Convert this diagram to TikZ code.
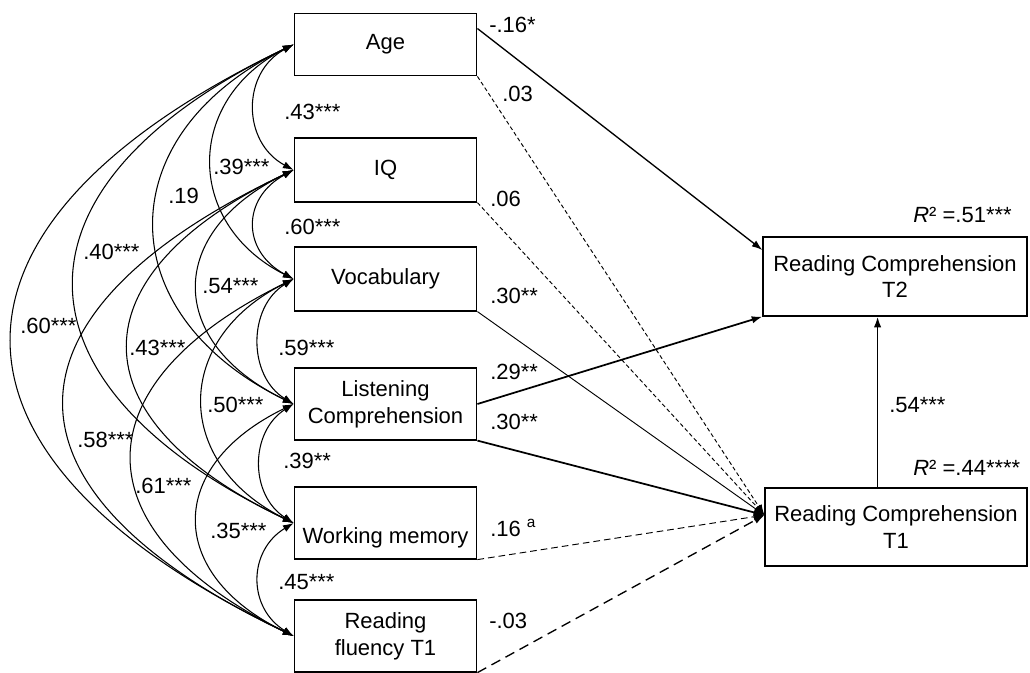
\documentclass[tikz,border=0pt]{standalone}
\usepackage{fontspec}
\setmainfont{Liberation Sans}
\usetikzlibrary{calc,arrows.meta}

\begin{document}
\begin{tikzpicture}[x=0.75pt,y=0.75pt,yscale=-1,xscale=1,
    font=\fontsize{16.5}{20}\selectfont,
    >={Latex[length=8pt,width=5.5pt]},
    var/.style={draw, line width=0.9pt, minimum width=137pt, align=center, inner sep=2pt},
    cov/.style={<->, line width=0.8pt},
    reg/.style={->, line width=1pt},
    ns/.style={->, line width=0.7pt},
    coef/.style={anchor=base west, inner sep=0pt}]
\useasboundingbox (0,0) rectangle (1030,673);
%Predictors
\node [var, minimum height=47pt] (age) at (385.5,44.5) {Age};
\node [var, minimum height=48pt] (iq) at (385.5,170) {IQ};
\node [var, minimum height=48pt] (voc) at (385.5,279) {Vocabulary};
\node [var, minimum height=54pt] (lc) at (385.5,404) {Listening\\Comprehension};
\node [var, minimum height=54pt] (wm) at (385.5,523) {\strut\\Working memory};
\node [var, minimum height=54pt] (rf) at (385.5,636) {Reading\\fluency T1};
%Outcomes
\node [var, minimum width=198pt, minimum height=59.25pt] (rc2) at (895,276.5) {Reading Comprehension\\T2};
\node [var, minimum width=196.5pt, minimum height=58.5pt] (rc1) at (896,527) {Reading Comprehension\\T1};
\coordinate (rc1in) at ($(rc1.north west)!0.35!(rc1.south west)$);
\coordinate (rc1top) at ($(rc1.north west)!0.43!(rc1.north east)$);
%Correlations
\draw [cov] (age.west) .. controls +(-52,28) and +(-52,-28) .. (iq.west);
\draw [cov] (iq.west) .. controls +(-52,28) and +(-52,-28) .. (voc.west);
\draw [cov] (voc.west) .. controls +(-46,28) and +(-46,-28) .. (lc.west);
\draw [cov] (lc.west) .. controls +(-44,28) and +(-44,-28) .. (wm.west);
\draw [cov] (wm.west) .. controls +(-46,28) and +(-46,-28) .. (rf.west);
\draw [cov] (age.west) .. controls +(-109,55) and +(-109,-55) .. (voc.west);
\draw [cov] (iq.west) .. controls +(-128,62) and +(-128,-62) .. (lc.west);
\draw [cov] (voc.west) .. controls +(-121,60) and +(-121,-60) .. (wm.west);
\draw [cov] (lc.west) .. controls +(-128,62) and +(-128,-62) .. (rf.west);
\draw [cov] (age.west) .. controls +(-185,90) and +(-185,-90) .. (lc.west);
\draw [cov] (iq.west) .. controls +(-220,105) and +(-220,-105) .. (wm.west);
\draw [cov] (voc.west) .. controls +(-215,105) and +(-215,-105) .. (rf.west);
\draw [cov] (age.west) .. controls +(-292,140) and +(-292,-140) .. (wm.west);
\draw [cov] (iq.west) .. controls +(-305,145) and +(-305,-145) .. (rf.west);
\draw [cov] (age.west) .. controls +(-375,180) and +(-375,-180) .. (rf.west);
\node [coef] (r-age-iq) at (284,120) {.43***};
\node [coef] (r-iq-voc) at (284,235) {.60***};
\node [coef] (r-voc-lc) at (278,355) {.59***};
\node [coef] (r-lc-wm) at (283,468) {.39**};
\node [coef] (r-wm-rf) at (278,589) {.45***};
\node [coef] (r-age-voc) at (213,175) {.39***};
\node [coef] (r-iq-lc) at (202,294) {.54***};
\node [coef] (r-voc-wm) at (207,412) {.50***};
\node [coef] (r-lc-rf) at (210,538) {.35***};
\node [coef] (r-age-lc) at (168,204) {.19};
\node [coef] (r-iq-wm) at (129,355) {.43***};
\node [coef] (r-voc-rf) at (135,493) {.61***};
\node [coef] (r-age-wm) at (83,260) {.40***};
\node [coef] (r-iq-rf) at (77,447) {.58***};
\node [coef] (r-age-rf) at (20,333) {.60***};
%Paths
\draw [reg] ($(age.north east)!0.25!(age.south east)$) -- ($(rc2.north west)!0.17!(rc2.south west)$);
\draw [ns, dash pattern=on 3pt off 2pt] (age.south east) -- (rc1in);
\draw [ns, dash pattern=on 3pt off 2pt] (iq.south east) -- (rc1in);
\draw [ns] (voc.south east) -- (rc1in);
\draw [reg, line width=1.3pt] (lc.east) -- (rc2.south west);
\draw [reg, line width=1.3pt] (lc.south east) -- (rc1in);
\draw [ns, dash pattern=on 5pt off 3pt] (wm.south east) -- (rc1in);
\draw [ns, line width=1pt, dash pattern=on 7.5pt off 4.5pt] (rf.south east) -- (rc1in);
\draw [reg, line width=1.3pt] (rc1top) -- (rc1top |- rc2.south);
\node [coef] (b-age-rc2) at (489,33) {-.16*};
\node [coef] (b-age-rc1) at (502,102) {.03};
\node [coef] (b-iq-rc1) at (490,207) {.06};
\node [coef] (b-voc-rc1) at (490,304) {.30**};
\node [coef] (b-lc-rc2) at (490,379) {.29**};
\node [coef] (b-lc-rc1) at (490,429) {.30**};
\node [coef] (b-wm-rc1) at (490,536) {.16 \textsuperscript{a}};
\node [coef] (b-rf-rc1) at (489,628) {-.03};
\node [coef] (b-rc1-rc2) at (889,412) {.54***};
\node [coef] (r2-rc2) at (913,223) {\textit{R}² =.51***};
\node [coef] (r2-rc1) at (913,475) {\textit{R}² =.44****};
\end{tikzpicture}
\end{document}
